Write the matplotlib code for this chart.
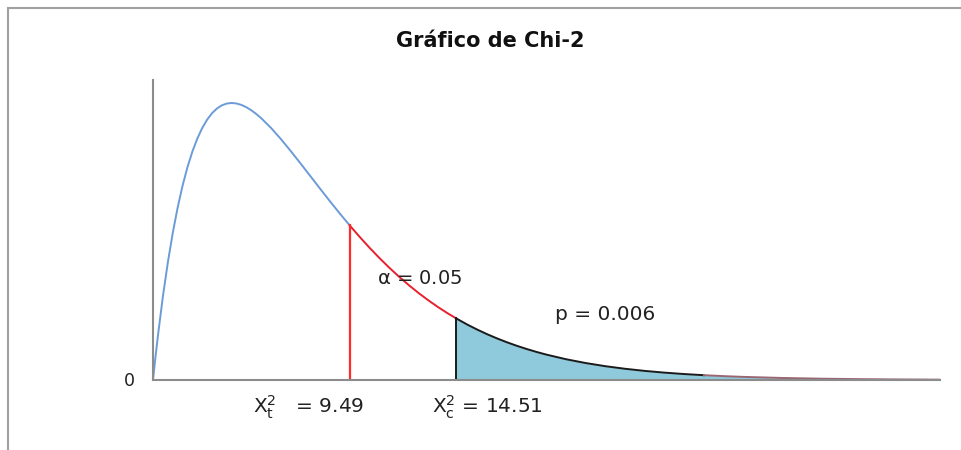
import numpy as np
import matplotlib
matplotlib.use("Agg")
import matplotlib.pyplot as plt
from matplotlib.patches import Rectangle

# curve heights (drawing units along x)
x_vals = np.array([0.0, 0.0625, 0.125, 0.25, 0.375, 0.5, 0.625, 0.75, 0.875, 1.0, 1.125,
                   1.25, 1.375, 1.5, 1.625, 1.75, 1.875, 2.0, 2.125, 2.25, 2.375, 2.5,
                   2.625, 2.75, 3.0, 3.25, 3.5, 3.75, 4.0, 4.25, 4.5, 4.75, 5.0, 5.25,
                   5.5, 5.75, 6.0, 6.25, 6.5, 6.75, 7.0, 7.25, 7.5, 7.7, 8.0, 8.25, 8.5,
                   8.75, 9.0, 9.25, 9.5, 9.75, 10.0, 10.5, 11.0, 11.5, 12.0, 12.5, 13.0,
                   13.5, 14.0, 14.5, 15.0, 16.0, 17.0, 18.0, 19.0, 20.0])
y_vals = np.array([0.0, 0.01514, 0.02936, 0.05516, 0.07772, 0.09735, 0.11431, 0.12887,
                   0.14124, 0.15163, 0.16025, 0.16727, 0.17285, 0.17714, 0.18027, 0.18238,
                   0.18357, 0.18394, 0.18359, 0.18262, 0.18108, 0.17906, 0.17662, 0.17383,
                   0.16735, 0.15999, 0.15205, 0.14377, 0.13534, 0.12689, 0.11858, 0.11045,
                   0.10261, 0.09508, 0.08790, 0.08110, 0.07468, 0.06865, 0.06301, 0.05774,
                   0.05285, 0.04830, 0.04410, 0.04097, 0.03663, 0.03334, 0.03031, 0.02754,
                   0.02500, 0.02267, 0.02055, 0.01861, 0.01684, 0.01377, 0.01124, 0.00915,
                   0.00744, 0.00603, 0.00489, 0.00395, 0.00319, 0.00257, 0.00207, 0.00134,
                   0.00086, 0.00056, 0.00036, 0.00023])

crit_pos = 5.0    # where the X2_t line is drawn
calc_pos = 7.7    # where the X2_c line is drawn
dark_end = 14.0   # tail line turns from black to muted red
chi_t = 9.49
chi_c = 14.51
alpha = 0.05
p_val = 0.006

W, H = 961, 450
fig = plt.figure(figsize=(W / 100, H / 100), dpi=100)
ax = fig.add_axes([153 / W, 1 - 380 / H, 787 / W, 300 / H])

left = x_vals <= crit_pos
mid = (x_vals >= crit_pos) & (x_vals <= calc_pos)
tail = x_vals >= calc_pos
tail_a = tail & (x_vals <= dark_end)
tail_b = x_vals >= dark_end

ax.fill_between(x_vals[tail], y_vals[tail], 0, color="#8ecadb", lw=0)
ax.plot(x_vals[left], y_vals[left], color="#6b9bd8", lw=1.4)
ax.plot(x_vals[mid], y_vals[mid], color="#e8202e", lw=1.4)
ax.plot(x_vals[tail_a], y_vals[tail_a], color="#1a1a1a", lw=1.4)
ax.plot(x_vals[tail_b], y_vals[tail_b], color="#9a6672", lw=1.4)
ax.plot([crit_pos, crit_pos], [0, y_vals[x_vals == crit_pos][0]], color="#ff2a2a", lw=1.6)
ax.plot([calc_pos, calc_pos], [0, y_vals[x_vals == calc_pos][0]], color="#1a1a1a", lw=1.4)

ax.set_xlim(0, 20)
ax.set_ylim(0, 0.1992)
for s in ["top", "right"]:
    ax.spines[s].set_visible(False)
for s in ["left", "bottom"]:
    ax.spines[s].set_color("#8c8c8c")
    ax.spines[s].set_linewidth(1.5)
ax.set_xticks([])
ax.set_yticks([])

# outer chart frame (cut off on the right and bottom)
fig.add_artist(Rectangle((8 / W, -0.1), 1.2, 1 - 8 / H + 0.1, transform=fig.transFigure,
                         fill=False, edgecolor="#a0a0a0", lw=1.5))

fig.text(490 / W, 1 - 41 / H, "Gráfico de Chi-2", ha="center", va="center",
         fontsize=15, fontweight="bold", color="#111111")
fig.text(129 / W, 1 - 381 / H, "0", ha="center", va="center", fontsize=12.5, color="#222222")
fig.text(377 / W, 1 - 278 / H, r"$\mathrm{\alpha}$ = " + f"{alpha:.2f}", ha="left", va="center",
         fontsize=14, color="#222222")
fig.text(555 / W, 1 - 314 / H, f"p = {p_val:.3f}", ha="left", va="center",
         fontsize=14.5, color="#222222")
fig.text(253 / W, 1 - 407 / H, r"$\mathrm{X}^{2}_{\mathrm{t}}$   = " + f"{chi_t:.2f}",
         ha="left", va="center", fontsize=14.5, color="#222222")
fig.text(432 / W, 1 - 407 / H, r"$\mathrm{X}^{2}_{\mathrm{c}}$ = " + f"{chi_c:.2f}",
         ha="left", va="center", fontsize=14.5, color="#222222")

fig.savefig("out.png", dpi=100, facecolor="white")
